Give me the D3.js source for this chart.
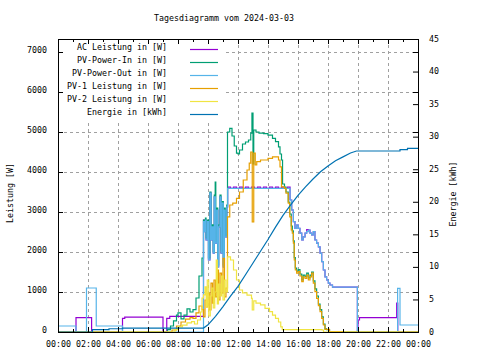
<!DOCTYPE html>
<html>
<head>
<meta charset="utf-8">
<title>Tagesdiagramm vom 2024-03-03</title>
<script src="https://d3js.org/d3.v7.min.js"></script>
<style>
  body { margin: 0; background: #fff; }
  svg text { font-family: "DejaVu Sans Mono", monospace; font-size: 8.3px; fill: #000; }
</style>
</head>
<body>
<script>
// Achsen
const hourTicks = [0, 2, 4, 6, 8, 10, 12, 14, 16, 18, 20, 22, 24];
const hourMinor = [1, 3, 5, 7, 9, 11, 13, 15, 17, 19, 21, 23];
const wattTicks = [0, 1000, 2000, 3000, 4000, 5000, 6000, 7000];
const kwhTicks = [0, 5, 10, 15, 20, 25, 30, 35, 40, 45];

const seriesNames = ['AC Leistung in [W]', 'PV-Power-In in [W]', 'PV-Power-Out in [W]',
  'PV-1 Leistung in [W]', 'PV-2 Leistung in [W]', 'Energie in [kWh]'];
const seriesColors = ['#9400d3', '#009e73', '#56b4e9', '#e69f00', '#f0e442', '#0072b2'];

// [Stunde, Wert]
const acPower = [[0,0],[1.2,360],[2.24,0],[4.3,340],[4.45,370],[7.0,0],[7.25,340],[7.45,390],
  [9.7,2800],[9.77,2510],[9.83,2800],[9.87,2300],[9.97,2760],[10.03,1800],[10.13,3470],[10.2,2300],
  [10.27,2630],[10.35,1970],[10.42,3380],[10.49,2220],[10.58,3050],[10.65,1630],[10.71,2630],[10.8,3380],
  [10.87,1970],[10.93,3220],[11.02,1630],[11.09,3050],[11.15,2380],[11.25,3130],
  [11.31,3620],[11.5,3590],[11.7,3620],[11.9,3590],[12.1,3620],[12.3,3590],[12.5,3620],[12.7,3590],
  [12.9,3620],[13.1,3590],[13.3,3620],[13.5,3590],[13.7,3620],[13.9,3590],[14.1,3620],[14.3,3590],
  [14.5,3620],[14.7,3590],[14.9,3620],[15.1,3590],[15.3,3620],
  [15.47,3300],[15.58,3050],[15.69,2760],[15.8,2590],[15.91,2675],[16.02,2590],[16.13,2470],
  [16.25,2300],[16.35,2380],[16.47,2470],[16.58,2560],[16.69,2550],[16.8,2470],[16.91,2425],
  [17.02,2510],[17.13,2300],[17.24,2220],[17.36,2130],[17.47,1970],[17.58,1760],[17.69,1550],
  [17.8,1380],[17.91,1300],[18.02,1220],[18.13,1175],[18.3,1120],[19.96,0],[20.0,300],[20.1,360],
  [22.58,725],[22.65,0],[24,0]];

const pvIn = [[0,0],[7.1,0],[7.3,60],[7.5,150],[7.7,280],[7.9,420],[8.0,480],[8.2,330],[8.4,420],
  [8.6,580],[8.8,500],[9.0,560],[9.2,850],[9.4,1400],[9.6,1850],[9.7,2800],[9.77,2550],[9.83,2850],
  [9.87,2350],[9.97,2800],[10.03,1850],[10.13,3500],[10.2,2350],[10.27,2680],[10.35,2000],[10.42,3420],
  [10.48,3750],[10.52,2270],[10.58,3100],[10.65,1680],[10.71,2680],[10.8,3420],[10.87,2020],
  [10.93,3260],[11.02,1680],[11.09,3100],[11.15,2420],[11.25,3170],[11.3,5000],[11.45,5090],
  [11.6,4900],[11.75,4650],[11.9,4470],[12.0,4450],[12.1,4550],[12.3,4700],[12.5,4750],[12.7,4800],
  [12.85,4970],[12.93,5470],[13.0,4200],[13.05,5050],[13.2,5000],[13.4,4970],[13.7,4960],[14.0,4920],
  [14.3,4840],[14.5,4760],[14.7,4630],[14.8,4450],[14.9,4300],[14.97,3700],[15.1,3620],[15.2,3500],
  [15.35,3250],[15.45,2950],[15.55,2650],[15.62,2530],[15.69,2280],[15.75,1860],[15.82,1600],
  [15.91,1520],[16.02,1560],[16.13,1450],[16.25,1300],[16.35,1420],[16.47,1390],[16.58,1470],
  [16.69,1350],[16.8,1420],[16.91,1500],[17.02,1280],[17.13,1080],[17.24,900],[17.36,700],
  [17.47,560],[17.58,380],[17.69,200],[17.8,80],[17.9,60],[18.1,10],[19.0,0],[24,0]];

const pvOut = [[0,150],[1.2,0],[1.9,1100],[2.55,150],[4.3,0],[9.7,2760],[9.77,2510],[9.83,2800],
  [9.87,2300],[9.97,2760],[10.03,1800],[10.13,3470],[10.2,2300],[10.27,2630],[10.35,1970],
  [10.42,3380],[10.49,2220],[10.58,3050],[10.65,1630],[10.71,2630],[10.8,3380],[10.87,1970],
  [10.93,3220],[11.02,1630],[11.09,3050],[11.15,2380],[11.25,3130],[11.31,3590],[15.47,3300],
  [15.58,3050],[15.69,2760],[15.8,2590],[15.91,2675],[16.02,2590],[16.13,2470],[16.25,2300],
  [16.35,2380],[16.47,2470],[16.58,2510],[16.69,2550],[16.8,2470],[16.91,2425],[17.02,2510],
  [17.13,2300],[17.24,2220],[17.36,2130],[17.47,1970],[17.58,1760],[17.69,1550],[17.8,1380],
  [17.91,1300],[18.02,1220],[18.13,1175],[18.3,1120],[19.96,0],[22.64,1090],[22.8,175],[24,175]];

const pv1 = [[0,0],[7.4,0],[7.6,50],[7.9,150],[8.2,250],[8.5,320],[8.8,360],[9.0,340],[9.2,480],
  [9.4,650],[9.6,560],[9.7,380],[9.8,800],[9.9,630],[10.0,970],[10.1,550],[10.2,1220],[10.3,720],
  [10.4,1300],[10.5,880],[10.6,1550],[10.7,800],[10.8,1470],[10.9,970],[11.0,1840],[11.1,880],
  [11.2,1100],[11.3,2880],[11.45,3175],[11.65,3220],[11.9,3340],[12.1,3500],[12.35,3800],
  [12.6,4050],[12.75,4220],[12.85,4500],[12.95,2750],[13.05,4470],[13.15,4175],[13.25,4260],
  [13.5,4300],[14.0,4340],[14.3,4380],[14.5,4380],[14.7,4300],[14.8,4130],[14.9,3630],[15.1,3590],
  [15.2,3470],[15.35,3220],[15.45,2880],[15.55,2550],[15.62,2470],[15.69,2220],[15.75,1800],
  [15.82,1550],[15.91,1470],[16.02,1510],[16.13,1400],[16.25,1260],[16.35,1380],[16.47,1340],
  [16.58,1425],[16.69,1300],[16.8,1380],[16.91,1470],[17.02,1220],[17.13,1010],[17.24,840],
  [17.36,660],[17.47,510],[17.58,340],[17.69,175],[17.8,65],[18.1,10],[19.0,0],[24,0]];

const pv2 = [[0,0],[7.5,0],[7.8,60],[8.0,130],[8.3,170],[8.6,230],[8.9,260],[9.1,200],[9.3,300],
  [9.5,500],[9.6,850],[9.7,930],[9.8,1130],[9.88,630],[9.95,1300],[10.05,400],[10.15,900],
  [10.25,1100],[10.35,600],[10.45,1000],[10.55,1800],[10.62,700],[10.7,1200],[10.8,900],[10.9,1400],
  [11.0,800],[11.1,1300],[11.2,1000],[11.3,1880],[11.5,1800],[11.7,1550],[11.9,1300],[12.1,1050],
  [12.3,980],[12.6,920],[12.9,840],[12.95,550],[13.05,780],[13.2,720],[13.5,680],[13.8,590],
  [14.1,510],[14.3,420],[14.5,340],[14.7,250],[14.85,130],[14.95,60],[17.6,50],[17.7,0],[24,0]];

const energy = [[0,0],[2.3,0],[2.3,0.35],[3.4,0.35],[3.4,0.5],[4.3,0.5],[4.3,0.6],[9.7,0.6],
  [10.0,1.1],[10.5,2.4],[11.0,3.9],[11.5,5.5],[12.0,7.0],[12.5,8.8],[13.0,10.6],[13.5,12.4],
  [14.0,14.2],[14.5,16.1],[15.0,17.9],[15.5,19.5],[16.0,21.0],[16.5,22.3],[17.0,23.5],[17.5,24.6],
  [18.0,25.5],[18.5,26.3],[19.0,26.9],[19.5,27.5],[19.9,27.8],[22.8,27.8],[22.8,28.0],[23.3,28.0],
  [23.3,28.2],[24,28.2]];

const width = 480, height = 360;
const svg = d3.select('body').append('svg')
  .attr('width', width).attr('height', height);

const x = d3.scaleLinear().domain([0, 24]).range([58, 418]);
const yL = d3.scaleLinear().domain([0, 7325]).range([332, 39]);
const yR = d3.scaleLinear().domain([0, 45]).range([332, 39]);

// Gitter
const grid = svg.append('g').attr('stroke', '#a0a0a0').attr('stroke-dasharray', '3,3');
grid.selectAll('.gh').data(wattTicks.filter(d => d > 0)).join('line')
  .attr('x1', 58).attr('x2', 418)
  .attr('y1', d => Math.round(yL(d)) + 0.5).attr('y2', d => Math.round(yL(d)) + 0.5);
grid.selectAll('.gv').data(hourTicks.filter(d => d > 0 && d < 24)).join('line')
  .attr('x1', d => Math.round(x(d)) + 0.5).attr('x2', d => Math.round(x(d)) + 0.5)
  .attr('y1', 39).attr('y2', 332);

// Legende (deckend)
svg.append('rect').attr('x', 59).attr('y', 40).attr('width', 167).attr('height', 80).attr('fill', '#fff');

// Linien
const lw = 1.2;
const lineW = d3.line().x(d => x(d[0])).y(d => yL(d[1])).curve(d3.curveStepAfter);
const lineE = d3.line().x(d => x(d[0])).y(d => yR(d[1]));
const powerSeries = [acPower, pvIn, pvOut, pv1, pv2];
powerSeries.forEach((s, i) => {
  svg.append('path').datum(s).attr('d', lineW)
    .attr('fill', 'none').attr('stroke', seriesColors[i]).attr('stroke-width', lw);
});
svg.append('path').datum(energy).attr('d', lineE)
  .attr('fill', 'none').attr('stroke', seriesColors[5]).attr('stroke-width', lw);

// Legende
const leg = svg.append('g');
seriesNames.forEach((n, i) => {
  leg.append('text').attr('x', 167).attr('y', 50 + 13 * i).attr('text-anchor', 'end').text(n);
  leg.append('line').attr('x1', 190).attr('x2', 218)
    .attr('y1', 49.5 + 13 * i).attr('y2', 49.5 + 13 * i)
    .attr('stroke', seriesColors[i]).attr('stroke-width', lw);
});

// Rahmen
svg.append('rect').attr('x', 58.5).attr('y', 39.5).attr('width', 360).attr('height', 293)
  .attr('fill', 'none').attr('stroke', '#000');

function styleAxis(g) {
  g.select('.domain').remove();
  g.attr('font-family', null).attr('font-size', null);
}

const fmtHour = d => String(d % 24).padStart(2, '0') + ':00';

svg.append('g').attr('transform', 'translate(0,332)')
  .call(d3.axisBottom(x).tickValues(hourTicks).tickSizeInner(-5).tickSizeOuter(0).tickPadding(9).tickFormat(fmtHour))
  .call(styleAxis);
svg.append('g').attr('transform', 'translate(0,332)')
  .call(d3.axisBottom(x).tickValues(hourMinor).tickSizeInner(-3).tickSizeOuter(0).tickFormat(''))
  .call(styleAxis);
svg.append('g').attr('transform', 'translate(0,39)')
  .call(d3.axisTop(x).tickValues(hourTicks).tickSizeInner(-5).tickSizeOuter(0).tickFormat(''))
  .call(styleAxis);
svg.append('g').attr('transform', 'translate(0,39)')
  .call(d3.axisTop(x).tickValues(hourMinor).tickSizeInner(-3).tickSizeOuter(0).tickFormat(''))
  .call(styleAxis);

svg.append('g').attr('transform', 'translate(58,0)')
  .call(d3.axisLeft(yL).tickValues(wattTicks).tickSizeInner(-5).tickSizeOuter(0).tickPadding(11).tickFormat(d3.format('d')))
  .call(styleAxis)
  .call(g => g.selectAll('text').attr('dy', '0.1em'));
svg.append('g').attr('transform', 'translate(418,0)')
  .call(d3.axisRight(yL).tickValues(wattTicks).tickSizeInner(-5).tickSizeOuter(0).tickFormat(''))
  .call(styleAxis);
svg.append('g').attr('transform', 'translate(418,0)')
  .call(d3.axisRight(yR).tickValues(kwhTicks).tickSizeInner(-5).tickSizeOuter(0).tickPadding(11).tickFormat(d3.format('d')))
  .call(styleAxis)
  .call(g => g.selectAll('text').attr('dy', '0.24em'));

// Titel
svg.append('text').attr('x', 224).attr('y', 21).attr('text-anchor', 'middle')
  .text('Tagesdiagramm vom 2024-03-03');
svg.append('text').attr('transform', 'translate(12.5,193) rotate(-90)')
  .attr('text-anchor', 'middle').text('Leistung [W]');
svg.append('text').attr('transform', 'translate(456,194) rotate(-90)')
  .attr('text-anchor', 'middle').text('Energie [kWh]');
</script>
</body>
</html>
